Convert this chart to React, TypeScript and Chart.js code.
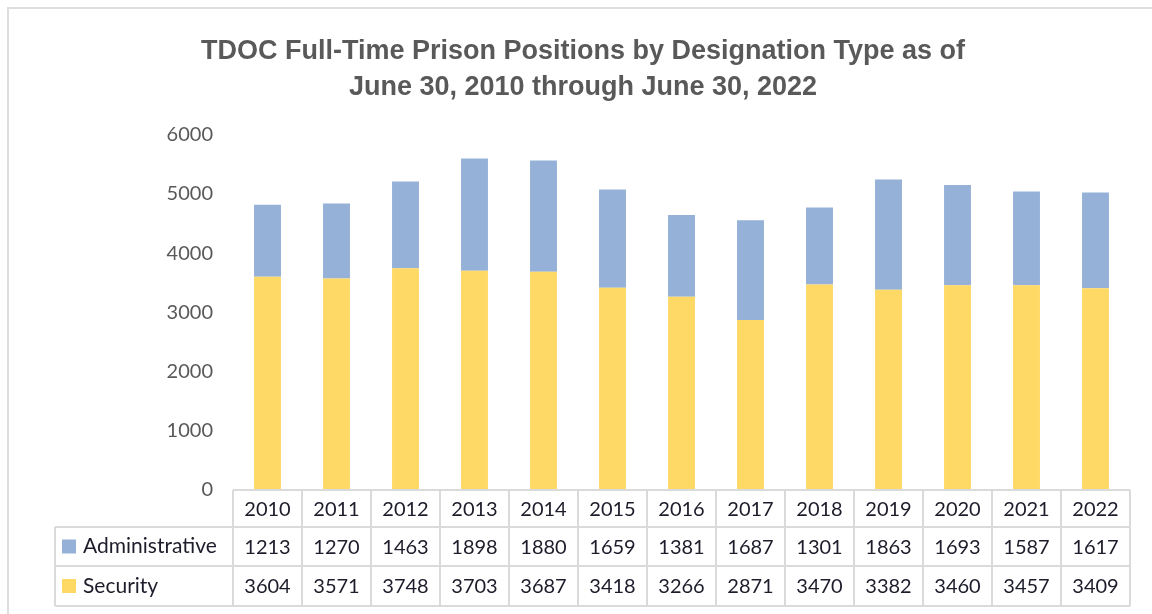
import React, { useEffect, useRef } from 'react';
import { Chart, registerables } from 'chart.js';

Chart.register(...registerables);

const years = ['2010', '2011', '2012', '2013', '2014', '2015', '2016', '2017', '2018', '2019', '2020', '2021', '2022'];
const administrative = [1213, 1270, 1463, 1898, 1880, 1659, 1381, 1687, 1301, 1863, 1693, 1587, 1617];
const security = [3604, 3571, 3748, 3703, 3687, 3418, 3266, 2871, 3470, 3382, 3460, 3457, 3409];
const titleLines = ['TDOC Full-Time Prison Positions by Designation Type as of', 'June 30, 2010 through June 30, 2022'];

const ADMIN_COLOR = '#95B1D7';
const SEC_COLOR = '#FFD966';
const GRID_COLOR = '#dadada';
const BODY_FONT = "Lato, 'Liberation Sans', sans-serif";

const tableRows = [
  { name: 'Administrative', color: ADMIN_COLOR, values: administrative },
  { name: 'Security', color: SEC_COLOR, values: security },
];

const tablePlugin = {
  id: 'dataTable',
  beforeDraw(chart: any) {
    const ctx = chart.ctx;
    ctx.save();
    ctx.strokeStyle = '#dedede';
    ctx.lineWidth = 2;
    ctx.beginPath();
    ctx.moveTo(8, chart.height + 5);
    ctx.lineTo(8, 8);
    ctx.lineTo(chart.width + 5, 8);
    ctx.stroke();
    ctx.restore();
  },
  afterDraw(chart: any) {
    const { ctx, chartArea } = chart;
    const xs = chart.scales.x;
    const n = years.length;
    const left = chartArea.left;
    const right = chartArea.right;
    const colW = (right - left) / n;
    const top = chartArea.bottom;
    const rowY = [top, top + 37, top + 76, top + 116];
    const legendLeft = 55;
    ctx.save();
    ctx.strokeStyle = GRID_COLOR;
    ctx.lineWidth = 2;
    const line = (x1: number, y1: number, x2: number, y2: number) => {
      ctx.beginPath();
      ctx.moveTo(x1, y1);
      ctx.lineTo(x2, y2);
      ctx.stroke();
    };
    line(left, rowY[0], right, rowY[0]);
    for (let r = 1; r < rowY.length; r++) line(legendLeft, rowY[r], right, rowY[r]);
    for (let i = 0; i <= n; i++) {
      const x = left + i * colW;
      line(x, rowY[0], x, rowY[3]);
    }
    line(legendLeft, rowY[1], legendLeft, rowY[3]);

    ctx.fillStyle = '#1c1c2a';
    ctx.font = `20px ${BODY_FONT}`;
    ctx.textAlign = 'center';
    ctx.textBaseline = 'middle';
    years.forEach((yr, i) => {
      const cx = xs.getPixelForValue(i);
      ctx.fillText(yr, cx, (rowY[0] + rowY[1]) / 2 + 1);
      tableRows.forEach((row, r) => {
        ctx.fillText(String(row.values[i]), cx, (rowY[r + 1] + rowY[r + 2]) / 2 + 1);
      });
    });
    tableRows.forEach((row, r) => {
      const cy = (rowY[r + 1] + rowY[r + 2]) / 2;
      ctx.fillStyle = row.color;
      ctx.fillRect(62, cy - 7, 14, 14);
      ctx.fillStyle = '#1c1c2a';
      ctx.textAlign = 'left';
      ctx.font = `21px ${BODY_FONT}`;
      ctx.fillText(row.name, 83, cy);
    });
    ctx.restore();
  },
};

export default function App() {
  const ref = useRef<HTMLCanvasElement>(null);
  useEffect(() => {
    if (!ref.current) return;
    const chart = new Chart(ref.current, {
      type: 'bar',
      data: {
        labels: years,
        datasets: [
          { label: 'Security', data: security, backgroundColor: SEC_COLOR },
          { label: 'Administrative', data: administrative, backgroundColor: ADMIN_COLOR },
        ],
      },
      options: {
        responsive: false,
        animation: false,
        devicePixelRatio: 1,
        layout: { padding: { top: 0, right: 22, bottom: 124, left: 36 } },
        plugins: {
          legend: { display: false },
          tooltip: { enabled: false },
          title: {
            display: true,
            text: titleLines,
            color: '#595959',
            font: { family: "'Liberation Sans', Arial, sans-serif", size: 27, weight: 'bold', lineHeight: 1.33 },
            padding: { top: 34, bottom: 29 },
          },
        },
        datasets: { bar: { categoryPercentage: 1, barPercentage: 0.39 } },
        scales: {
          x: { stacked: true, display: false },
          y: {
            stacked: true,
            min: 0,
            max: 6000,
            grid: { display: false, drawTicks: false },
            border: { display: false },
            ticks: {
              stepSize: 1000,
              color: '#595959',
              font: { family: BODY_FONT, size: 20 },
              padding: 20,
              callback: (v: any) => String(v),
            },
            afterFit: (scale: any) => { scale.width = 197; },
          },
        },
      },
      plugins: [tablePlugin],
    });
    return () => chart.destroy();
  }, []);
  return (
    <div style={{ position: 'absolute', left: 0, top: 0, width: 1152, height: 614, background: '#fff' }}>
      <canvas ref={ref} width={1152} height={614} />
    </div>
  );
}
